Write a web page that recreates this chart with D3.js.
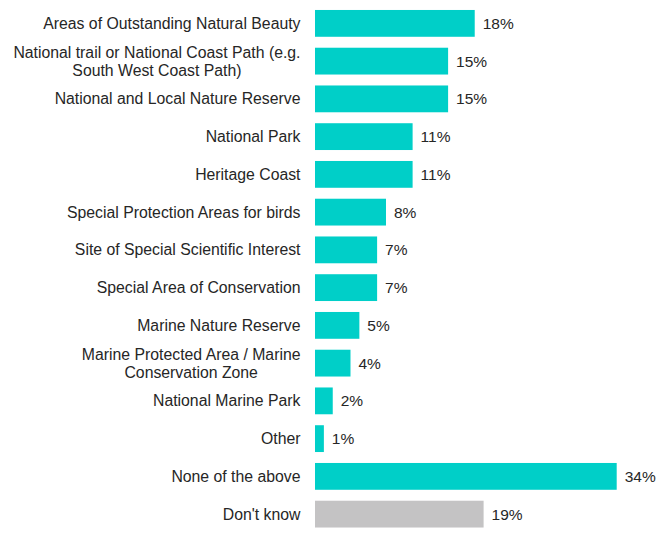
<!DOCTYPE html>
<html>
<head>
<meta charset="utf-8">
<script src="https://cdn.jsdelivr.net/npm/d3@7"></script>
<style>
  body { margin: 0; background: #fff; }
  svg text { font-family: Arial, "Liberation Sans", sans-serif; fill: #262626; }
  svg text.value { font-size: 15.5px; }
  svg text.cat { font-size: 15.8px; }
</style>
</head>
<body>
<svg id="chart"></svg>
<script>
// categories, each label split into its printed lines
const categories = [
  ['Areas of Outstanding Natural Beauty'],
  ['National trail or National Coast Path (e.g.', 'South West Coast Path)'],
  ['National and Local Nature Reserve'],
  ['National Park'],
  ['Heritage Coast'],
  ['Special Protection Areas for birds'],
  ['Site of Special Scientific Interest'],
  ['Special Area of Conservation'],
  ['Marine Nature Reserve'],
  ['Marine Protected Area / Marine', 'Conservation Zone'],
  ['National Marine Park'],
  ['Other'],
  ['None of the above'],
  ["Don't know"]
];
const values = [18, 15, 15, 11, 11, 8, 7, 7, 5, 4, 2, 1, 34, 19];
const greyCategory = "Don't know";

const width = 663;
const height = 533;
const barLeft = 315; // bars start here, labels sit to the left

const svg = d3.select('#chart')
  .attr('width', width)
  .attr('height', height);

const rows = categories.map((lines, i) => ({ key: lines.join(' '), lines: lines, value: values[i] }));

const x = d3.scaleLinear()
  .domain([0, 34])
  .range([barLeft, 616.7]);

const y = d3.scaleBand()
  .domain(rows.map(d => d.key))
  .range([4.5, 533])
  .paddingInner(0.29)
  .paddingOuter(0.145);

const row = svg.selectAll('g.row')
  .data(rows)
  .enter().append('g')
  .attr('class', 'row');

row.append('rect')
  .attr('x', x(0))
  .attr('y', d => y(d.key))
  .attr('width', d => x(d.value) - x(0))
  .attr('height', y.bandwidth())
  .attr('fill', d => d.key === greyCategory ? '#c4c3c4' : '#00cfc8');

// value labels just past the bar end
row.append('text')
  .attr('class', 'value')
  .attr('x', d => x(d.value) + 8)
  .attr('y', d => y(d.key) + y.bandwidth() / 2)
  .attr('dy', '0.35em')
  .text(d => d.value + '%');

// category labels: block right-aligned to the bars, multi-line centred within itself
const lineHeight = 18;
const labelRight = 300.5;
const label = row.append('text')
  .attr('class', 'cat')
  .attr('text-anchor', 'middle');

label.selectAll('tspan')
  .data(d => d.lines.map((t, i) => ({ t: t, i: i, n: d.lines.length, key: d.key })))
  .enter().append('tspan')
  .attr('y', d => y(d.key) + y.bandwidth() / 2 + (d.i - (d.n - 1) / 2) * lineHeight)
  .attr('dy', '0.35em')
  .text(d => d.t);

label.each(function () {
  const spans = d3.select(this).selectAll('tspan').nodes();
  const maxW = d3.max(spans, s => s.getComputedTextLength());
  d3.select(this).selectAll('tspan').attr('x', labelRight - maxW / 2);
});
</script>
</body>
</html>
